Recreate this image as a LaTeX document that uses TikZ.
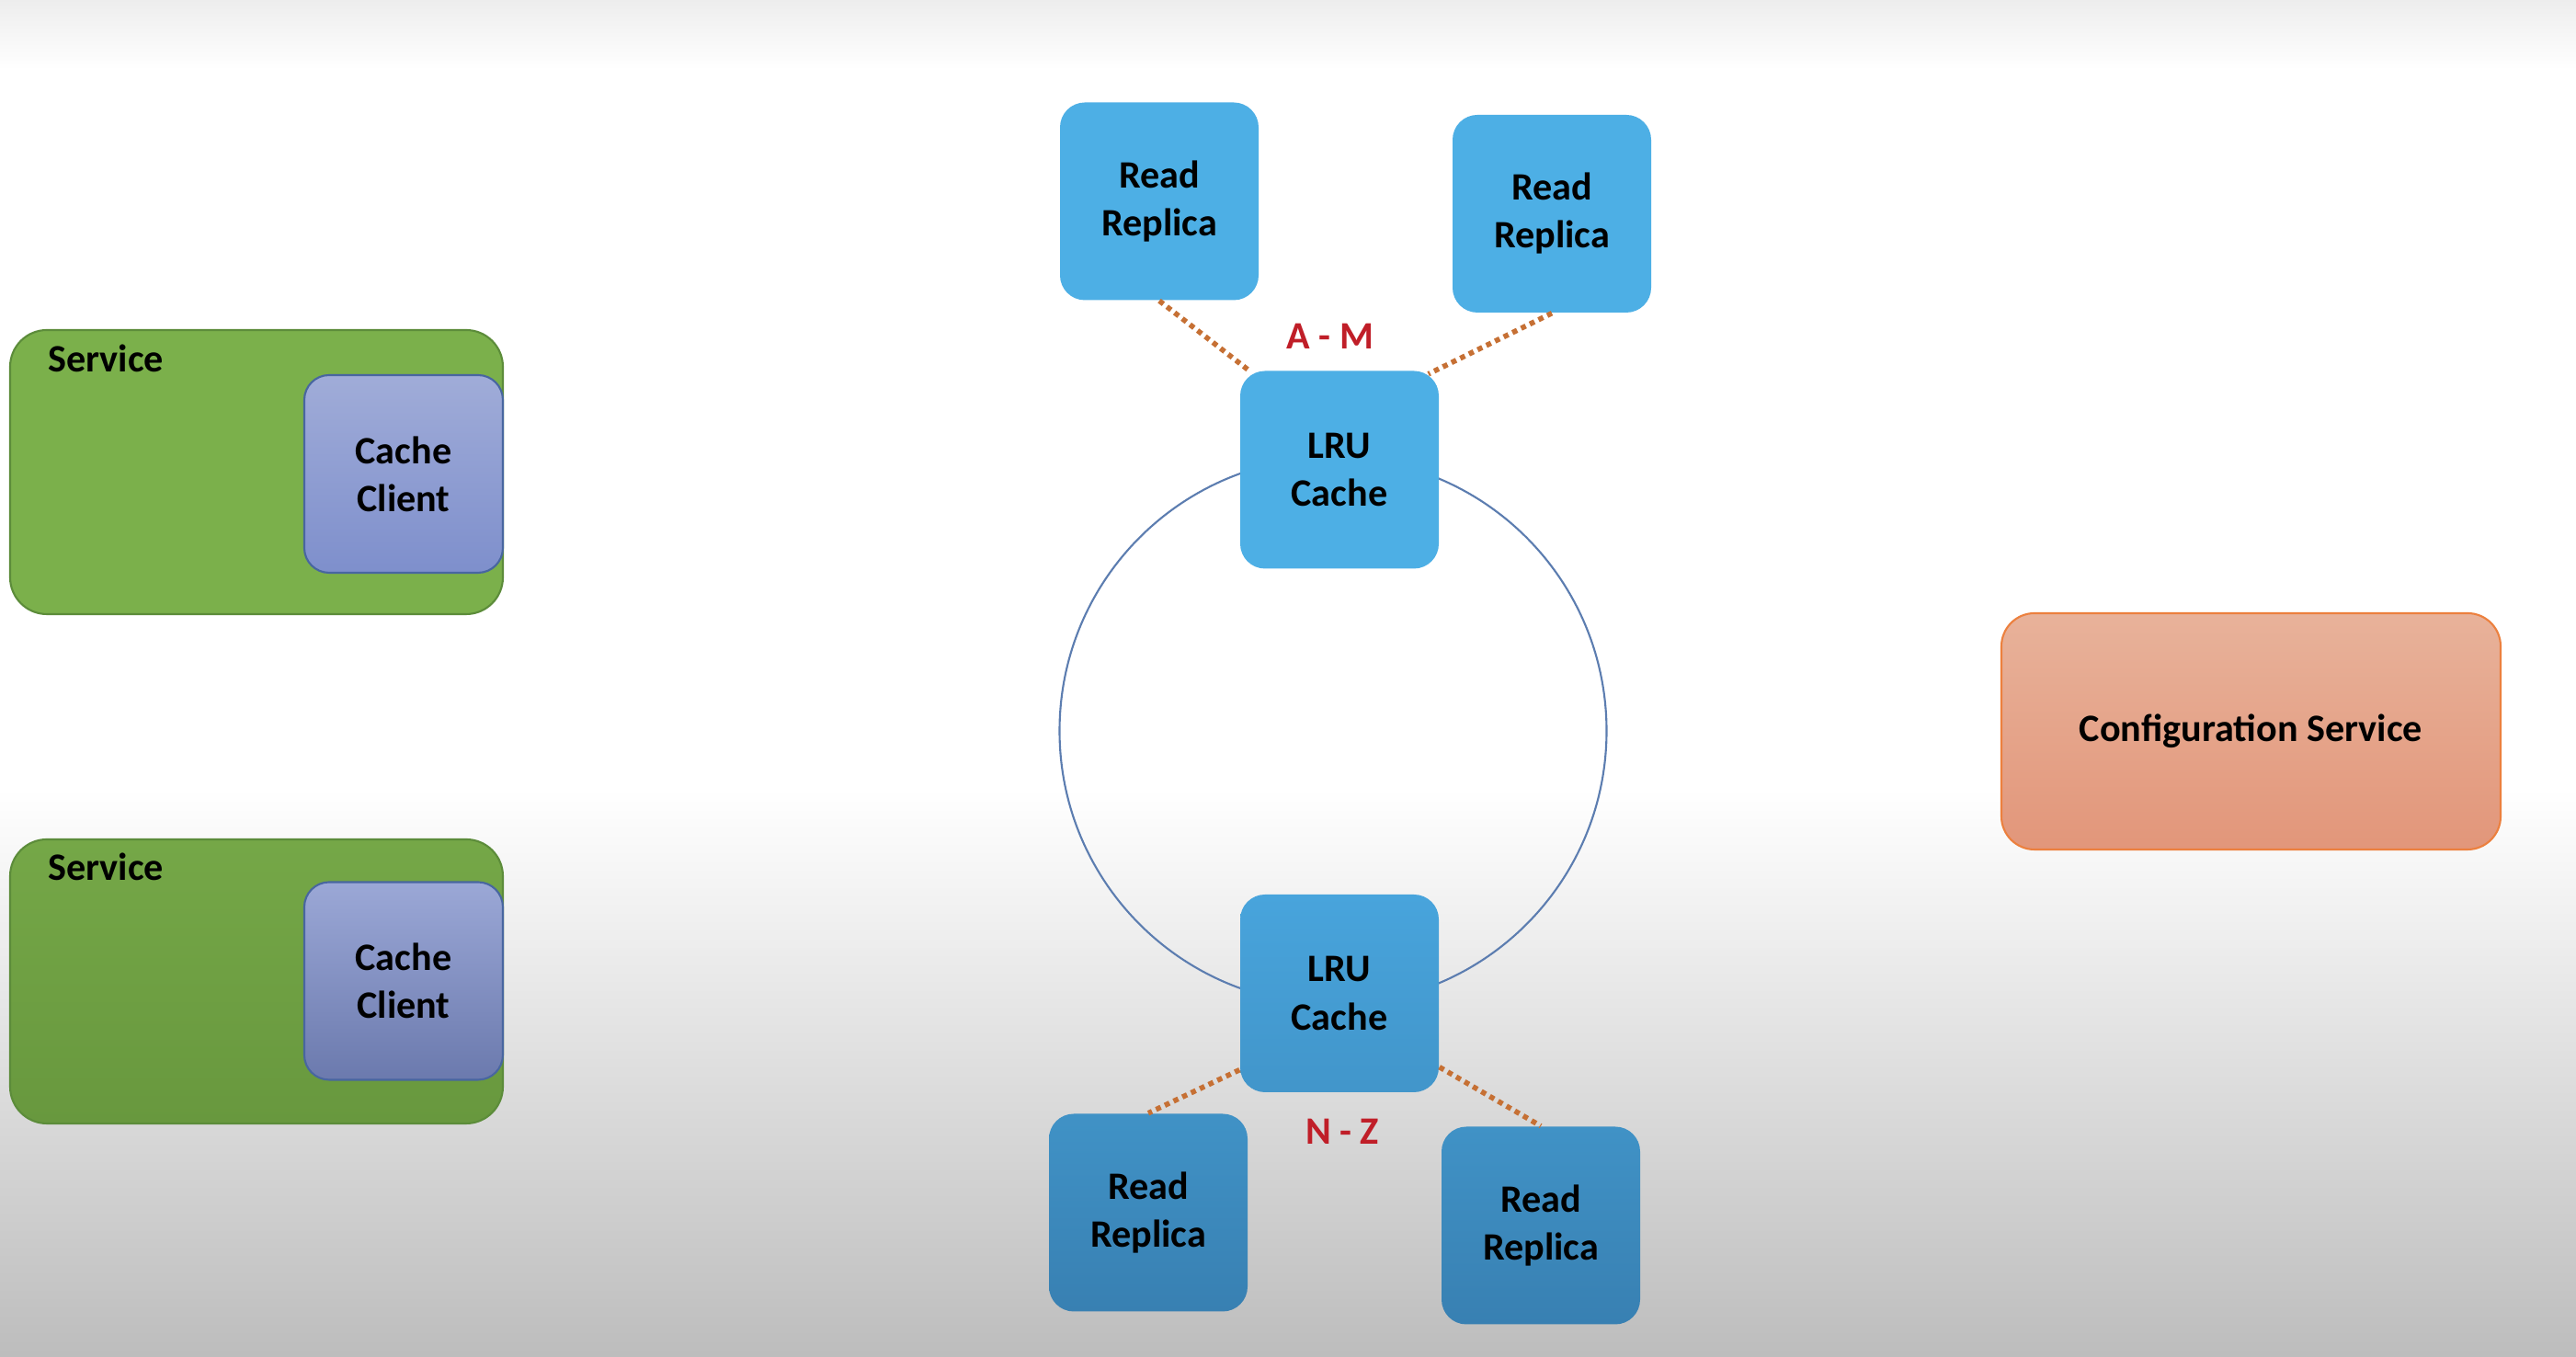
\documentclass[tikz,border=0pt]{standalone}
\usepackage{fontspec}
\setmainfont{Carlito}
\usetikzlibrary{positioning}
\definecolor{Az}{RGB}{77,175,229}
\definecolor{AzB}{RGB}{72,164,220}
\definecolor{AzO}{RGB}{64,146,198}
\definecolor{AzOO}{RGB}{56,128,178}
\definecolor{V}{RGB}{123,176,75}
\definecolor{VO}{RGB}{104,152,62}
\definecolor{VB}{RGB}{92,140,58}
\definecolor{L}{RGB}{160,172,216}
\definecolor{LO}{RGB}{126,143,204}
\definecolor{LB}{RGB}{72,102,160}
\definecolor{N}{RGB}{232,178,154}
\definecolor{NO}{RGB}{226,150,122}
\definecolor{NB}{RGB}{236,128,62}
\definecolor{P}{RGB}{198,112,52}
\definecolor{R}{RGB}{192,30,40}
\definecolor{C}{RGB}{92,125,176}

\tikzset{
  texto/.style={text=black, font=\bfseries\fontsize{12}{14.8}\selectfont, align=center},
  caja/.style={texto, rounded corners=0.27cm, minimum width=2.16cm, minimum height=2.15cm, inner sep=0pt},
  servicio/.style={rounded corners=0.4cm, minimum width=5.36cm, minimum height=3.09cm, draw=VB, line width=0.6pt, inner sep=0pt},
  cliente/.style={caja, draw=LB, line width=0.6pt},
  punteada/.style={draw=P, line width=1.6pt, dash pattern=on 1.6pt off 1.4pt},
  rango/.style={text=R, font=\bfseries\fontsize{12}{14.8}\selectfont}
}

\begin{document}
\begin{tikzpicture}
    \useasboundingbox (0,0) rectangle (28.02,14.76);

    %Fondo
    \fill[white] (0,0) rectangle (28.02,14.76);
    \shade[top color=white, bottom color=black!26] (0,6.18) rectangle (28.02,0);
    \shade[top color=black!7, bottom color=white] (0,14.76) rectangle (28.02,14.0);

    %Servicios de la izquierda
    \node[servicio, fill=V] (svc1) at (2.79,9.625) {};
    \node[servicio, top color=V!95!black, bottom color=VO] (svc2) at (2.79,4.085) {};
    \node[texto, anchor=west] (svc1lbl) at (0.40,10.86) {Service};
    \node[texto, anchor=west] (svc2lbl) at (0.40,5.33) {Service};

    %Clientes de cache
    \node[cliente, top color=L, bottom color=LO] (cc1) at (4.39,9.605) {Cache\\Client};
    \node[cliente, top color=L!85!LO, bottom color=LO!85!black] (cc2) at (4.39,4.09) {Cache\\Client};

    %Anillo
    \draw[C, line width=0.6pt] (14.50,6.81) circle (2.975);

    %Nodos LRU
    \node[caja, fill=Az] (lruT) at (14.57,9.65) {LRU\\Cache};
    \node[caja, top color=AzB, bottom color=AzO!80!AzB] (lruB) at (14.57,3.955) {LRU\\Cache};

    %Replicas de lectura
    \node[caja, fill=Az] (rrTL) at (12.61,12.57) {Read\\Replica};
    \node[caja, fill=Az] (rrTR) at (16.88,12.435) {Read\\Replica};
    \node[caja, top color=AzO, bottom color=AzOO] (rrBL) at (12.49,1.57) {Read\\Replica};
    \node[caja, top color=AzO, bottom color=AzOO] (rrBR) at (16.76,1.43) {Read\\Replica};

    %Lineas punteadas
    \draw[punteada] (rrTL.south) -- ([xshift=0.1cm]lruT.north west);
    \draw[punteada] (rrTR.south) -- ([xshift=-0.12cm,yshift=-0.04cm]lruT.north east);
    \draw[punteada] ([yshift=0.25cm]lruB.south west) -- (rrBL.north);
    \draw[punteada] ([yshift=0.28cm]lruB.south east) -- (rrBR.north);

    %Rangos
    \node[rango] (am) at (14.47,11.10) {A - M};
    \node[rango] (nz) at (14.60,2.45) {N - Z};

    %Servicio de configuracion
    \node[texto, rounded corners=0.36cm, minimum width=5.43cm, minimum height=2.57cm, draw=NB, line width=0.6pt, top color=N, bottom color=NO] (cfg) at (24.485,6.805) {Configuration Service};
\end{tikzpicture}
\end{document}
